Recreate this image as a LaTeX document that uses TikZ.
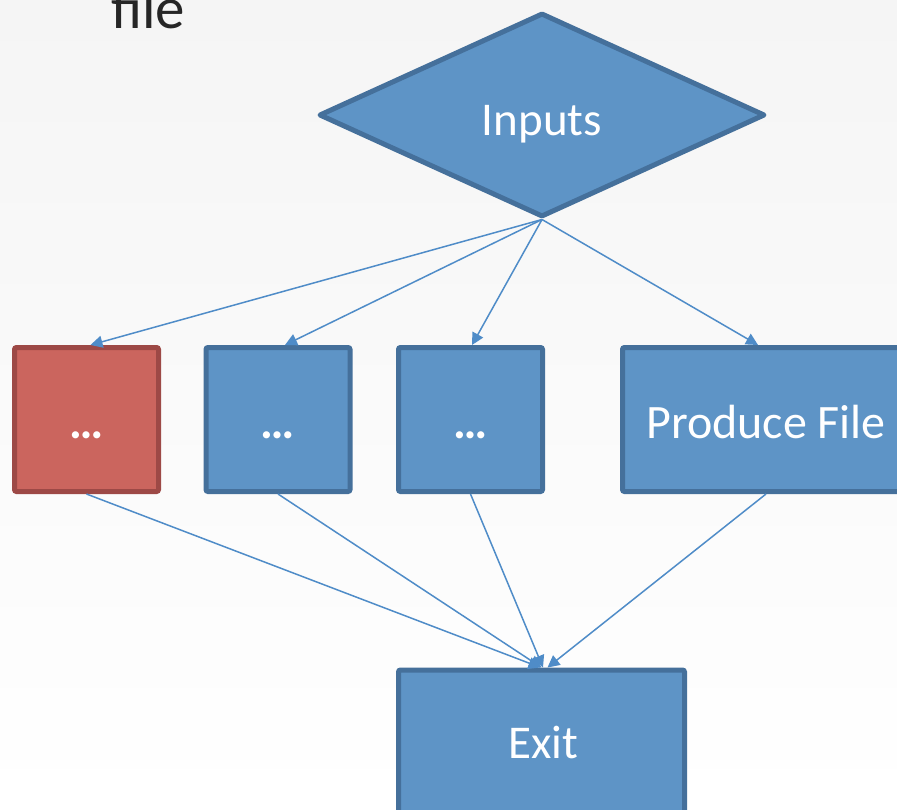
\documentclass[tikz,border=0pt]{standalone}
\usepackage{fontspec}
\setmainfont{Carlito}
\usetikzlibrary{shapes.geometric,arrows.meta}
\definecolor{boxfill}{RGB}{94,148,198}
\definecolor{boxline}{RGB}{69,112,155}
\definecolor{redfill}{RGB}{203,101,94}
\definecolor{redline}{RGB}{157,73,70}
\definecolor{linkcol}{RGB}{79,140,200}
\definecolor{titlecol}{RGB}{38,38,38}
\tikzset{
  % labels sit a little below the box centre
  lowtext/.style={text height=49pt, text depth=12pt},
  stepbox/.style={draw=boxline, fill=boxfill, line width=5pt, rounded corners=2pt,
    text=white, font=\fontsize{48}{50}\selectfont, inner sep=0pt, lowtext,
    minimum width=144pt, minimum height=144pt},
  redbox/.style={stepbox, draw=redline, fill=redfill},
  decision/.style={diamond, draw=boxline, fill=boxfill, line width=5pt, line join=round,
    text=white, font=\fontsize{47}{50}\selectfont, inner sep=0pt,
    text height=52pt, text depth=12pt,
    minimum width=446pt, minimum height=204pt},
  link/.style={draw=linkcol, line width=1.5pt,
    -{Triangle[length=12pt,width=12pt]}}
}
\begin{document}
\begin{tikzpicture}[x=1pt, y=-1pt]
  \clip (0,0) rectangle (897,809);
  % page background
  \shade[top color={rgb,255:red,245;green,245;blue,245}, bottom color=white]
    (0,0) rectangle (897,809);
  % heading fragment
  \node[anchor=base west, inner sep=0pt, text=titlecol,
        font=\fontsize{59}{60}\selectfont] (title) at (111,28) {file};
  % flow nodes
  \node[decision] (in) at (542,115) {Inputs};
  \node[redbox] (b1) at (86.5,419.5) {\bfseries …};
  \node[stepbox] (b2) at (278,419.5) {\bfseries …};
  \node[stepbox] (b3) at (470.5,419.5) {\bfseries …};
  \node[stepbox, minimum width=287pt] (pf) at (766,419.5) {Produce File};
  \node[stepbox, minimum width=286pt, minimum height=190pt, anchor=north]
    (ex) at (541.5,667.5) {};
  \node[text=white, font=\fontsize{47}{50}\selectfont, inner sep=0pt,
        anchor=base] (exl) at (543,758) {Exit};
  % connectors
  \draw[link] (in.south) -- ([xshift=4pt]b1.north);
  \draw[link] (in.south) -- ([xshift=7pt]b2.north);
  \draw[link] (in.south) -- ([xshift=1.5pt]b3.north);
  \draw[link] (in.south) -- ([xshift=-8pt]pf.north);
  \draw[link] (b1.south) -- ([xshift=-1pt]ex.north);
  \draw[link] (b2.south) -- ([xshift=0pt]ex.north);
  \draw[link] (b3.south) -- ([xshift=1.5pt]ex.north);
  \draw[link] (pf.south) -- ([xshift=6pt]ex.north);
\end{tikzpicture}
\end{document}
